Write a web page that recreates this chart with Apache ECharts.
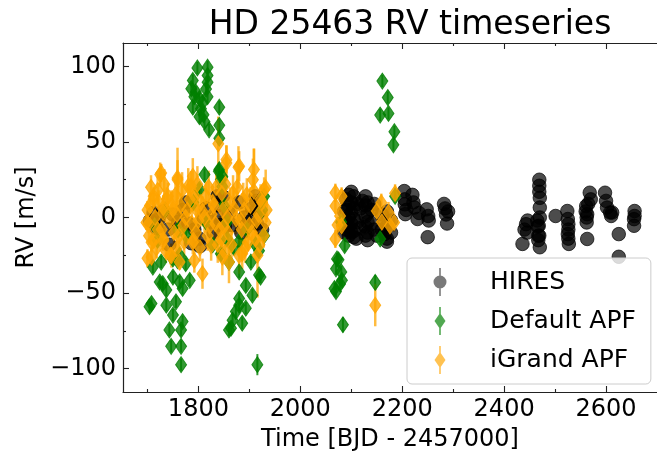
<!DOCTYPE html>
<html><head><meta charset="utf-8">
<script src="https://cdn.jsdelivr.net/npm/echarts@6/dist/echarts.min.js"></script>
<style>html,body{margin:0;padding:0;background:#fff}#c{width:657px;height:457px}</style>
</head><body><div id="c"></div>
<script>
// ---------------- DATA ----------------
const hiresTime = [1705,1710,1712,1717,1722,1730,1740,1743,1750,1760,1770,1776,1780,1786,1792,1802,1803,1810,1815,1824,1830,1837,1838,1840,1843,1848,1852,1860,1866,1880,1884,1890,1897,1905,1912,1913,1914,1915,1918,1925,
2090,2090,2090,2090,2095,2095,2095,2095,2095,2100,2100,2100,2100,2100,2105,2105,2105,2105,2105,2112,2112,2128,2128,2128,2128,2128,2132,2132,2132,2132,2132,2140,2140,2160,2160,2165,2165,2170,2170,2170,2170,2178,2178,
2086,2086,2110,2118,2118,2122,2145,2145,2150,
2204,2205,2205,2206,2208,2220,2222,2224,2230,2233,2248,2251,2252,2250,2282,2284,2286,2288,2290,
2436,2440,2443,2445,2446,2465,2466,2467,2469,2469,2469,2470,2470,2470,2468,2469,2470,2467,2501,2524,2525,2526,2526,2525,2526,2527,2560,2561,2562,2563,2562,2563,2568,2570,2565,2598,2600,2602,2608,2612,2610,2625,2625,2656,2656,2655,2655];
const hiresRV = [-2,-3,3,-7,-1,4,-8,-18,2,-3,5,10,-4,-17,-8,-14,-19,0,6,-3,-10,14,8,1,-5,14,-6,3,-5,10,-10,0,-3,6,14,11,5,-4,3,-8,
12,5,-2,-8,15,8,0,-6,-12,17,10,3,-4,-10,14,6,-1,-9,-13,9,-3,14,8,1,-6,-12,10,3,-3,-10,-15,5,-4,2,-8,-3,-11,4,-6,-14,-16,-2,-10,
4,-10,-14,6,-7,11,9,-8,-12,
17.5,12,8.7,2.2,5,15,10,6.6,-1,3,5.4,1,-2,-13,9,6,2,-4,4,
-17.5,-8,-4.4,-10,-2,-2,-6,-12,25,21,17,13,6.6,0,-5.5,-12,-19.7,-15,1,4.3,-1,-4.4,-8,-11,-14,-17.5,4,7.6,0,2.2,-3.3,-14.2,16.4,12,9,16.4,11,6.6,3.3,3.3,1,-11,-26,4.3,1,-1.1,-5.5];

const apfTime = [1798,1818,1818,1789,1818,1786,1795,1815,1802,1818,1789,1805,1802,1812,1821,1841,1841,1841,1808,1792,1810,
1840,1812,1802,1847,1847,1841,1844,1929,1815,1856,1776,1856,1880,1929,1714,1763,1919,1720,1735,1760,1790,1828,1850,1870,1895,1912,1925,
1710.6,1727,1750,1759,1724,1750,1763,1737,1769,1704,1708,1737,1756,1750,1769,1743,1766,1746.5,1766,1766,1915.7,
1844,1860,1880,1903,1919,1893,1906,1880,1873.5,1864,1886,1867,1880,1775,1783,1730,1860,1922,1893,
2161,2171.6,2156.7,2173,2184.6,2182.7,2072,2070,2080.5,2081.7,2070,2067,2083.6,2147,2087,2156.7,2186,2080,2075,2078];
const apfRV = [99,99.5,94,90.7,89.6,85.3,83,85,78.7,80,73,72,66.7,63.4,58,73,61,52.5,76,80,68,
30.6,28.4,18.6,27,20.5,31.7,25,14,-3,-3,-12,-14,-16,-12,-5.5,-25,-22,-15,5,-8,10,-18,8,-20,-8,-18,5,
-32.8,-29.5,-27.4,-28.5,-42.7,-39.4,-42.7,-48,-47,-59,-57,-58,-55.8,-64.6,-68.9,-74.4,-74.4,-85.3,-85.3,-97.4,-97.4,
-24,-29.5,-36,-29.5,-38,-45,-51.4,-58,-62.3,-73.3,-70,-68,-53.6,-30.6,-41.6,-43.8,-74.4,-39.4,-60,
90.3,79.4,67.8,68.9,56.8,48.1,-27.4,-34,-36,-41.6,-49,-47,-71,-43,-18.6,-14.2,14,-3,-28,-44];
const apfErr = [4,4,4,4,4,4,4,4,4,4,4,4,4,4,4,4,4,4,4,4,4,
4,4,4,4,4,4,4,4,4,4,4,4,4,4,4,4,4,4,4,4,4,4,4,4,4,4,4,
4,4,4,4,4,4,4,4,4,4,4,4,4,4,4,4,4,4,4,4,7,
4,4,4,4,4,4,4,4,5,4,4,4,4,4,4,4,4,4,4,
4,4,4,4,4,4,4,4,4,4,4,4,5,5,4,4,4,4,4,4];

const igTime = [1839,1855,1878.6,1759,1725,1909,1929,1785.6,1712,1731,1702,1727,1759,1789,1780,1815,1880,1855,1909,1932,
1698,1712,1731,1750,1770,1796,1822,1825,1848,1874,1900,1880,1912,1932,1708,1731,1757,1789,1845,1708,1747,1792,1808,1847,1860,1886,1916,1763,1700,1712,1731,1745,1790,1852,1897,
1705,1720,1738,1744,1755,1765,1775,1783,1800,1805,1812,1830,1835,1842,1862,1868,1890,1895,1905,1918,1925,1720,1762,1795,1828,1858,1885,1920,
1700,1703,1707,1715,1718,1722,1728,1733,1736,1740,1747,1752,1758,1768,1772,1778,1787,1793,1798,1803,1808,1818,1820,1826,1833,1838,1846,1850,1853,1857,1865,1870,1876,1883,1888,1892,1902,1907,1914,1922,1928,1934,
2068.8,2068.8,2081,2078,2081,2068.8,2147,2159,2173,2150,2184,2176,2186,2073,2160];
const igRV = [48.8,38.3,33.2,26.2,28.4,17.5,18.6,20.7,14,6.6,-4.4,29.5,25,27.3,20.7,14,33.9,36,31.7,19.7,
-3.3,12,3.3,5.4,-5.5,5.4,-5.5,-18.6,5,-1,-5,-25.2,-14.2,-3.3,-16.4,-14.2,-20.8,-16.4,-14,-26.2,-25.2,-28.5,-37.2,-26.2,-29.5,-24,-25,-29.5,-27,-15.4,-15.4,-25,-15,-23,-16.4,
8,18,12,-2,15,8,0,12,-2,10,0,8,20,-8,10,16,5,15,-10,2,10,-8,-12,-10,10,-10,-8,-18,
5,-12,20,0,-20,10,-8,22,-22,14,8,-10,2,18,-16,5,-4,14,22,-20,4,-12,20,2,-4,-18,16,-6,22,0,-18,6,20,-2,12,-20,8,25,-2,12,-12,5,
16.4,7.6,14,1,-5.5,-14.2,-58,9.8,3.3,4.3,-3.3,-5.5,16,-5,-3];
const igErr = [18,9,14,20,8,28,8,10,6,8,6,6,13,12,12,10,10,12,14,12,
5,7,6,12,8,10,9,10,8,10,10,12,14,8,6,8,10,8,10,6,8,8,10,12,14,10,28,5,6,5,6,6,6,6,6,
8,10,8,9,10,8,9,10,11,9,10,8,12,9,10,12,10,11,9,8,10,9,10,8,9,10,9,8,
6,6,8,6,7,8,8,10,8,9,10,9,10,12,10,10,9,10,12,9,10,10,11,9,10,12,10,11,12,10,10,12,12,10,11,10,12,14,10,10,8,8,
6,5,6,5,5,6,14,6,7,6,6,6,6,5,6];

const xMajorTicks = [1800,2000,2200,2400,2600];
const xMinorTicks = [1700,1900,2100,2300,2500];
const yMajorTicks = [-100,-50,0,50,100];
const yMinorTicks = [-75,-25,25,75];

// ---------------- CHART ----------------
const FONT = 'DejaVu Sans';
const chart = echarts.init(document.getElementById('c'), null, {renderer:'canvas'});
const XMIN = 1652, XMAX = 2700, YMIN = -115.5, YMAX = 115.5;
const minus = v => String(v).replace('-', '\u2212');

function errRender(color, width) {
  return function (params, api) {
    const x = api.value(0), y = api.value(1), e = api.value(2);
    const p1 = api.coord([x, y - e]), p2 = api.coord([x, y + e]);
    return {type:'line', shape:{x1:p1[0], y1:p1[1], x2:p2[0], y2:p2[1]},
            style:{stroke:color, lineWidth:width}};
  };
}
const zip3 = (a,b,c) => a.map((t,i)=>[t,b[i],c[i]]);
const zip2 = (a,b) => a.map((t,i)=>[t,b[i]]);

function xAxisDef(pos, ticks, len, main) {
  return {type:'value', position:pos, min:XMIN, max:XMAX, gridIndex:0,
    axisLine:{show:main, onZero:false, lineStyle:{color:'#222', width:1.2}},
    axisTick:{show:true, inside:true, length:len, customValues:ticks, lineStyle:{color:'#222', width:1.1}},
    axisLabel:{show:main && pos==='bottom', customValues:ticks, margin:6, color:'#000', fontFamily:FONT, fontSize:24,
      formatter: v => String(v)},
    splitLine:{show:false},
    name: (main && pos==='bottom') ? 'Time [BJD - 2457000]' : '',
    nameLocation:'middle', nameGap:36,
    nameTextStyle:{fontFamily:FONT, fontSize:24, color:'#000'}};
}
function yAxisDef(ticks, len, main) {
  return {type:'value', position:'left', min:YMIN, max:YMAX, gridIndex:0,
    axisLine:{show:main, onZero:false, lineStyle:{color:'#222', width:1.2}},
    axisTick:{show:true, inside:true, length:len, customValues:ticks, lineStyle:{color:'#222', width:1.1}},
    axisLabel:{show:main, customValues:ticks, margin:7, color:'#000', fontFamily:FONT, fontSize:24, formatter:minus},
    splitLine:{show:false},
    name: main ? 'RV [m/s]' : '', nameLocation:'middle', nameGap:84,
    nameTextStyle:{fontFamily:FONT, fontSize:24, color:'#000'}};
}

// icons: a zero-area subpath widens the box so the icon keeps scale 1 and stays centred
const hiresIcon = 'path://M-23,14L-23,14 M23,14L23,14 M-0.8,0L0.8,0L0.8,28L-0.8,28Z M6.5,14A6.5,6.5,0,1,1,-6.5,14A6.5,6.5,0,1,1,6.5,14Z';
const diaIcon = 'path://M-23,14L-23,14 M23,14L23,14 M-0.8,0L0.8,0L0.8,28L-0.8,28Z M0,6L5.5,14L0,22L-5.5,14Z';

chart.setOption({
  animation:false,
  backgroundColor:'#fff',
  title:{text:'HD 25463 RV timeseries', left:405, top:2, textAlign:'center',
    textStyle:{fontFamily:FONT, fontSize:33, fontWeight:'normal', color:'#000', lineHeight:36}},
  grid:{left:123, right:-3, top:43, bottom:62, containLabel:false},
  xAxis:[xAxisDef('bottom', xMajorTicks, 6, true), xAxisDef('bottom', xMinorTicks, 3, false),
         xAxisDef('top', xMajorTicks, 6, true), xAxisDef('top', xMinorTicks, 3, false)],
  yAxis:[yAxisDef(yMajorTicks, 6, true), yAxisDef(yMinorTicks, 3, false)],
  legend:{orient:'vertical', left:407, top:258, padding:[10,15,10,10],
    itemWidth:46, itemHeight:28, itemGap:11, symbolKeepAspect:true,
    backgroundColor:'rgba(255,255,255,0.8)', borderColor:'#cccccc', borderWidth:1, borderRadius:5,
    textStyle:{fontFamily:FONT, fontSize:25, color:'#000', padding:[0,0,0,22]},
    data:[
      {name:'HIRES', icon:hiresIcon, itemStyle:{color:'rgba(0,0,0,0.75)', borderWidth:0}},
      {name:'Default APF', icon:diaIcon, itemStyle:{color:'rgba(0,128,0,0.85)', borderWidth:0}},
      {name:'iGrand APF', icon:diaIcon, itemStyle:{color:'rgba(255,165,0,0.85)', borderWidth:0}}
    ]},
  series:[
    {type:'scatter', name:'HIRES', data:zip2(hiresTime, hiresRV), symbol:'circle', symbolSize:13.5,
     itemStyle:{color:'#000', opacity:0.7, borderColor:'#000', borderWidth:1}, emphasis:{disabled:true}, z:2},
    {type:'custom', name:'Default APF err', data:zip3(apfTime, apfRV, apfErr),
     renderItem:errRender('rgba(0,128,0,0.8)', 2), silent:true, z:2},
    {type:'scatter', name:'Default APF', data:zip2(apfTime, apfRV), symbol:'diamond', symbolSize:[11,16],
     itemStyle:{color:'#008000', opacity:0.8, borderColor:'#008000', borderWidth:1}, emphasis:{disabled:true}, z:2},
    {type:'custom', name:'iGrand APF err', data:zip3(igTime, igRV, igErr),
     renderItem:errRender('rgba(255,165,0,0.75)', 2.5), silent:true, z:2},
    {type:'scatter', name:'iGrand APF', data:zip2(igTime, igRV), symbol:'diamond', symbolSize:[11,16],
     itemStyle:{color:'#FFA500', opacity:0.8, borderColor:'#FFA500', borderWidth:1}, emphasis:{disabled:true}, z:2}
  ]
});
</script></body></html>
